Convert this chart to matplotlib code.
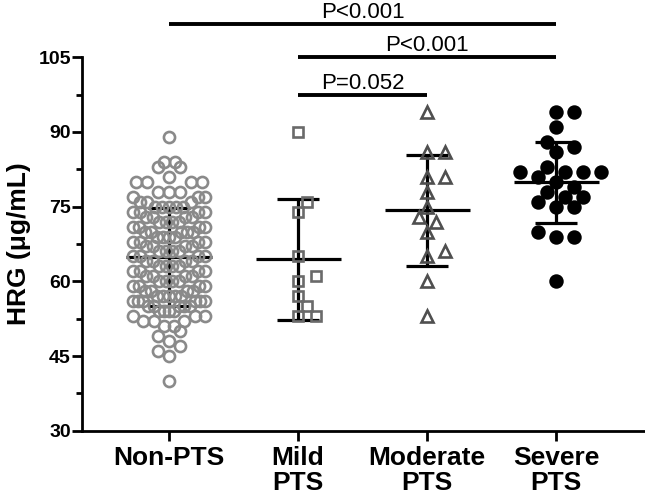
import numpy as np
import matplotlib.pyplot as plt
from matplotlib.ticker import MultipleLocator

plt.rcParams['font.family'] = ['Liberation Sans', 'DejaVu Sans']

# values (HRG, ug/mL)
groups = ['Non-PTS', 'Mild\nPTS', 'Moderate\nPTS', 'Severe\nPTS']
non_pts = [40, 45, 46, 47, 48, 49, 50, 51, 51, 52, 52, 52, 53, 53, 53,
           54, 54, 54, 54, 55, 55, 55, 55, 55, 56, 56, 56, 56, 56, 56,
           57, 57, 57, 57, 57, 58, 58, 58, 58, 59, 59, 59, 59,
           60, 60, 60, 60, 61, 61, 61, 61, 62, 62, 62, 62, 63, 63, 63, 63,
           64, 64, 64, 64, 65, 65, 65, 65, 66, 66, 66, 66,
           67, 67, 67, 67, 68, 68, 68, 68, 69, 69, 69, 69,
           70, 70, 70, 70, 70, 71, 71, 71, 71, 72, 72, 72, 72, 73, 73, 73, 73,
           74, 74, 74, 74, 75, 75, 75, 75, 75, 76, 76, 76, 77, 77, 77,
           78, 78, 78, 80, 80, 80, 80, 81, 83, 83, 84, 84, 89]
mild = [90, 76, 74, 65, 61, 60, 57, 55, 53, 53]
moderate = [94, 86, 86, 81, 81, 78, 75, 73, 72, 70, 66, 65, 60, 53]
severe = [94, 94, 91, 88, 87, 86, 83, 82, 82, 82, 82, 81, 80, 79, 78,
          77, 77, 76, 75, 75, 70, 69, 69, 60]
data = [non_pts, mild, moderate, severe]

p_pairs = [(0, 3), (1, 3), (1, 2)]
p_labels = ['P<0.001', 'P<0.001', 'P=0.052']
p_heights = [111.6, 105.0, 97.5]

fig = plt.figure(figsize=(6.45, 5.0), dpi=100)
ax = fig.add_axes([82 / 645, 1 - 430.7 / 500, (645 - 82) / 645, (430.7 - 57.3) / 500])
ax.set_xlim(-0.674, 3.687)
ax.set_ylim(30, 105)

# pixel scale of the axes, used for the point layout
bb = ax.get_window_extent()
sx = bb.width / (ax.get_xlim()[1] - ax.get_xlim()[0])
sy = bb.height / (ax.get_ylim()[1] - ax.get_ylim()[0])


def swarm(vals, d, step):
    yp = np.asarray(vals, dtype=float) * sy
    order = np.argsort(yp, kind='stable')
    px, py = [], []
    off = np.zeros(len(yp))
    for i in order:
        k = 0
        while True:
            c = ((k + 1) // 2) * step * (1 if k % 2 else -1)
            if not px or np.all((c - np.array(px)) ** 2 + (yp[i] - np.array(py)) ** 2 >= d * d):
                break
            k += 1
        off[i] = c
        px.append(c)
        py.append(yp[i])
    return off / sx


def rows(vals, width, s, half):
    # GraphPad-like: points grouped in bands, spread side by side, lowest in the middle
    vals = np.asarray(vals, dtype=float)
    off = np.zeros(len(vals))
    bins = np.floor((vals - vals.min() + width / 2) / width)
    for b in np.unique(bins):
        idx = np.where(bins == b)[0]
        idx = idx[np.argsort(vals[idx], kind='stable')]
        n = len(idx)
        step = s if n < 2 else min(s, 2 * half / (n - 1))
        slots = (np.arange(n) - (n - 1) / 2) * step
        slots = slots[np.argsort(np.abs(slots), kind='stable')]
        off[idx] = slots
    return off / sx


markers = ['o', 's', '^', 'o']
edge_cols = ['#8a8a8a', '#6a6a6a', '#4f4f4f', 'black']
face_cols = ['none', 'none', 'none', 'black']
sizes = [8.0, 7.5, 8.5, 8.5]

for i, vals in enumerate(data):
    vals = np.asarray(vals, dtype=float)
    if i == 0:
        xs = i + rows(vals, 3.0, 11.0, 36.0)
    else:
        xs = i + swarm(vals, 10.5 if i < 3 else 11.5, 8.7 if i < 3 else 9.0)
    ax.plot(xs, vals, ls='none', marker=markers[i], ms=sizes[i], mec=edge_cols[i],
            mfc=face_cols[i], mew=1.9, zorder=3, clip_on=False)
    m = vals.mean()
    sd = vals.std(ddof=1)
    ax.hlines(m, i - 0.33, i + 0.33, color='black', lw=2.3, zorder=2)
    ax.errorbar(i, m, yerr=sd, fmt='none', ecolor='black', elinewidth=2.3,
                capsize=15, capthick=2.3, zorder=2)

for (a, b), lab, h in zip(p_pairs, p_labels, p_heights):
    ax.plot([a, b], [h, h], color='black', lw=2.8, clip_on=False, solid_capstyle='butt')
    ax.text((a + b) / 2, h + 1.2, lab, ha='center', va='baseline', fontsize=16)

ax.set_xticks(range(len(groups)))
ax.set_xticklabels(groups, fontsize=19, fontweight='bold', linespacing=1.05)
ax.set_yticks(np.arange(30, 106, 15))
ax.yaxis.set_minor_locator(MultipleLocator(7.5))
for lab in ax.get_yticklabels():
    lab.set_fontsize(14)
    lab.set_fontweight('bold')
ax.set_ylabel('HRG (\u03bcg/mL)', fontsize=19, fontweight='bold', labelpad=5)

ax.tick_params(axis='both', which='major', length=7, width=2)
ax.tick_params(axis='y', which='major', pad=1)
ax.tick_params(axis='y', which='minor', length=4, width=2)
ax.tick_params(axis='x', which='major', pad=4)
for s in ['top', 'right']:
    ax.spines[s].set_visible(False)
for s in ['left', 'bottom']:
    ax.spines[s].set_linewidth(2)

fig.savefig('out.png', dpi=100)
